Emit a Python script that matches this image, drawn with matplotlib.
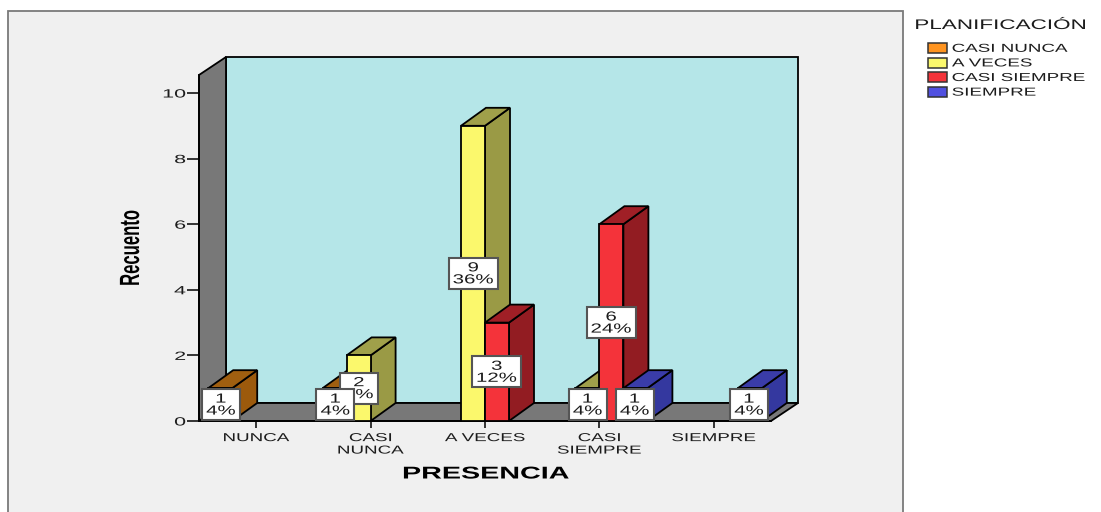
from matplotlib import pyplot as plt
from matplotlib.patches import Polygon, Rectangle
from matplotlib.patheffects import AbstractPathEffect
from matplotlib.transforms import Affine2D

categories = ['NUNCA', 'CASI\nNUNCA', 'A VECES', 'CASI\nSIEMPRE', 'SIEMPRE']
series_names = ['CASI NUNCA', 'A VECES', 'CASI SIEMPRE', 'SIEMPRE']
casi_nunca = [1, 1, 0, 0, 0]
a_veces = [0, 2, 9, 1, 0]
casi_siempre = [0, 0, 3, 6, 0]
siempre = [0, 0, 0, 1, 1]
counts = [casi_nunca, a_veces, casi_siempre, siempre]
percent_text = {1: '4%', 2: '8%', 3: '12%', 6: '24%', 9: '36%'}
y_ticks = [0, 2, 4, 6, 8, 10]

front_colors = ['#ff9420', '#fbf86c', '#f4333a', '#5050e0']
top_colors = ['#a05f10', '#a0a04a', '#a01f26', '#3a3ca8']
side_colors = ['#9c5a0c', '#9a9a45', '#921c22', '#34389f']

W, H = 1101, 512
PX_X = 114.4  # pixels per category
PX_Y = 32.8  # pixels per count
BAR_W = 24 / PX_X
BAR_DX = 25 / PX_X
WALL_DX = 27 / PX_X
DY = 18 / PX_Y
LW = 1.3
TEXT_COLOR = '#1c1c1c'


class Stretch(AbstractPathEffect):
    # source text is wide and squat, so scale the glyphs along the reading direction
    def __init__(self, sx, anchor=0.5):
        super().__init__()
        self.sx = sx
        self.anchor = anchor

    def draw_path(self, renderer, gc, tpath, affine, rgbFace=None):
        box = tpath.get_extents()
        c = box.x0 + (box.x1 - box.x0) * self.anchor
        t = Affine2D().translate(-c, 0).scale(self.sx, 1).translate(c, 0)
        renderer.draw_path(gc, tpath, t + affine, rgbFace)


def fx(px):
    return px / W


def fy(py):
    return 1 - py / H


def bar3d(x0, value, i, z):
    x1 = x0 + BAR_W
    front = Rectangle((x0, 0), BAR_W, value, fc=front_colors[i], ec='black', lw=LW, zorder=z, clip_on=False)
    top = Polygon([(x0, value), (x1, value), (x1 + BAR_DX, value + DY), (x0 + BAR_DX, value + DY)],
                  fc=top_colors[i], ec='black', lw=LW, zorder=z, clip_on=False)
    side = Polygon([(x1, 0), (x1 + BAR_DX, DY), (x1 + BAR_DX, value + DY), (x1, value)],
                   fc=side_colors[i], ec='black', lw=LW, zorder=z, clip_on=False)
    ax.add_patch(side)
    ax.add_patch(top)
    ax.add_patch(front)


fig = plt.figure(figsize=(W / 100, H / 100), dpi=100, facecolor='white')
plt.rcParams['font.family'] = ['Liberation Sans', 'DejaVu Sans']

# grey chart panel, runs off the bottom of the image
fig.add_artist(Rectangle((fx(8), fy(530)), fx(895), 530 / H - 11 / H, transform=fig.transFigure,
                         fc='#f0f0f0', ec='#7a7a7a', lw=1.3, zorder=-5))

ax = fig.add_axes([fx(199), fy(421), fx(771 - 199), (421 - 75) / H])
ax.patch.set_visible(False)
ax.set_xlim(-0.5, 4.5)
ax.set_ylim(0, 346 / PX_Y)
ax.spines['top'].set_visible(False)
ax.spines['right'].set_visible(False)
ax.spines['left'].set_linewidth(LW)
ax.spines['bottom'].set_linewidth(LW)

top_y = 346 / PX_Y
left_wall = Polygon([(-0.5, 0), (-0.5 + WALL_DX, DY), (-0.5 + WALL_DX, top_y + DY), (-0.5, top_y)],
                    fc='#787878', ec='black', lw=LW, zorder=1, clip_on=False)
back_wall = Rectangle((-0.5 + WALL_DX, DY), 5, top_y, fc='#b5e6e8', ec='black', lw=LW, zorder=1, clip_on=False)
floor = Polygon([(-0.5, 0), (4.5, 0), (4.5 + WALL_DX, DY), (-0.5 + WALL_DX, DY)],
                fc='#787878', ec='black', lw=LW, zorder=1, clip_on=False)
ax.add_patch(back_wall)
ax.add_patch(left_wall)
ax.add_patch(floor)

z = 3
for c in range(len(categories)):
    for i in range(len(counts)):
        if counts[i][c] > 0:
            bar3d(c + (i - 2) * BAR_W, counts[i][c], i, z)
            z += 0.01

# labels on top, later series underneath earlier ones
z = 10
for i in range(len(counts) - 1, -1, -1):
    for c in range(len(categories)):
        v = counts[i][c]
        if v == 0:
            continue
        xc = c + (i - 1.5) * 23.5 / PX_X
        pct = percent_text[v]
        bw = (49 if len(pct) == 3 else 38) / PX_X
        bh = 31 / PX_Y
        ax.add_patch(Rectangle((xc - bw / 2, v / 2 - bh / 2), bw, bh, fc='white', ec='#555555', lw=1.5,
                               zorder=z, clip_on=False))
        t = ax.text(xc, v / 2 - 0.03, '%d\n%s' % (v, pct), ha='center', va='center', fontsize=9.5, color=TEXT_COLOR,
                    linespacing=1.0, zorder=z + 0.1)
        t.set_path_effects([Stretch(1.55)])
        z += 1

ax.set_xticks(range(len(categories)))
ax.set_xticklabels(categories, fontsize=8.3, color=TEXT_COLOR, linespacing=1.05)
ax.set_yticks(y_ticks)
ax.set_yticklabels([str(v) for v in y_ticks], fontsize=8.6, color=TEXT_COLOR)
ax.tick_params(axis='x', length=5, width=1.1, pad=3)
ax.tick_params(axis='y', length=8.6, width=1.1, pad=1)
for t in ax.get_xticklabels():
    t.set_path_effects([Stretch(1.63)])
for t in ax.get_yticklabels():
    t.set_path_effects([Stretch(1.8, anchor=1)])

xlabel = fig.text(fx(486), fy(474), 'PRESENCIA', ha='center', va='center', fontsize=12.3, fontweight='bold', color='black')
xlabel.set_path_effects([Stretch(1.68)])
ylabel = fig.text(fx(132), fy(248), 'Recuento', ha='center', va='center', rotation=90, fontsize=20,
                  fontweight='bold', color='black')
ylabel.set_path_effects([Stretch(0.6)])

# legend
title = fig.text(fx(915), fy(25), 'PLANIFICACIÓN', ha='left', va='center', fontsize=10, color=TEXT_COLOR)
title.set_path_effects([Stretch(1.62, anchor=0)])
for i, name in enumerate(series_names):
    py = 48 + i * 14.6
    fig.add_artist(Rectangle((fx(928), fy(py + 5)), fx(19), 10 / H, transform=fig.transFigure,
                             fc=front_colors[i], ec='#333333', lw=1.1))
    t = fig.text(fx(952), fy(py + 0.8), name, ha='left', va='center', fontsize=8.3, color=TEXT_COLOR)
    t.set_path_effects([Stretch(1.63, anchor=0)])

fig.savefig('out.png', dpi=100)
